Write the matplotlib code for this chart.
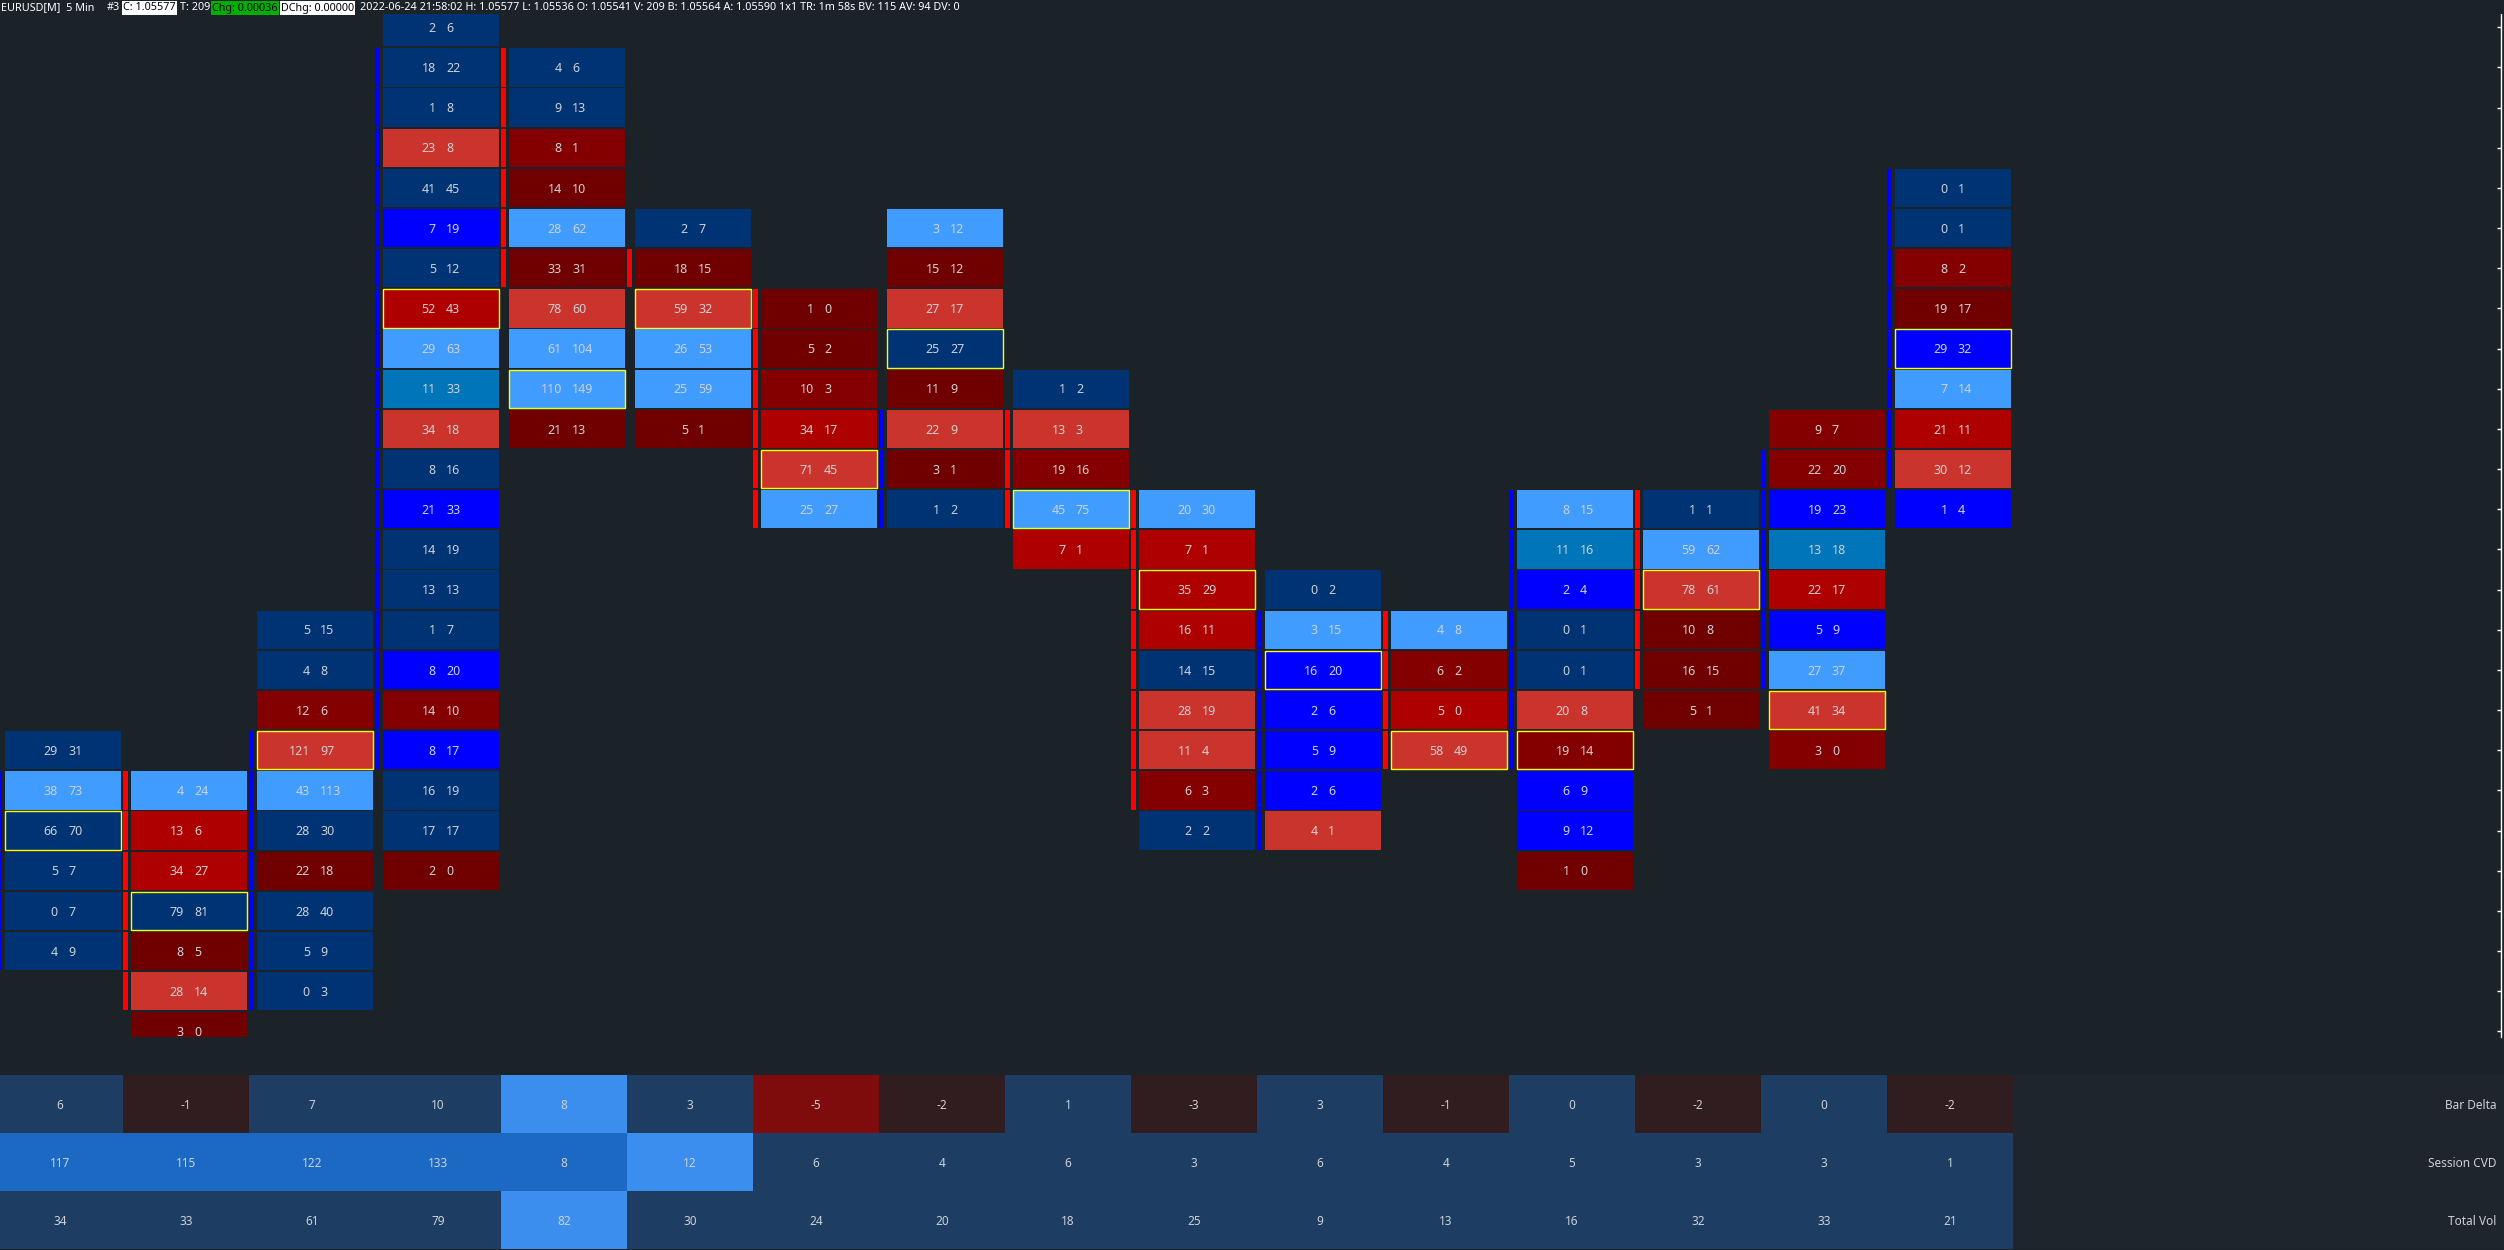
import matplotlib
matplotlib.use("Agg")
import matplotlib.pyplot as plt
from matplotlib.patches import Rectangle
import numpy as np

plt.rcParams["font.family"] = ["Noto Sans", "DejaVu Sans"]

# footprint data, one list per 5 min bar (top price level index, then rows downwards)
col_top = [18, 19, 15, 0, 1, 5, 7, 5, 9, 12, 14, 15, 12, 12, 10, 4]
bids = [
    [29, 38, 66, 5, 0, 4],
    [4, 13, 34, 79, 8, 28, 3],
    [5, 4, 12, 121, 43, 28, 22, 28, 5, 0],
    [2, 18, 1, 23, 41, 7, 5, 52, 29, 11, 34, 8, 21, 14, 13, 1, 8, 14, 8, 16, 17, 2],
    [4, 9, 8, 14, 28, 33, 78, 61, 110, 21],
    [2, 18, 59, 26, 25, 5],
    [1, 5, 10, 34, 71, 25],
    [3, 15, 27, 25, 11, 22, 3, 1],
    [1, 13, 19, 45, 7],
    [20, 7, 35, 16, 14, 28, 11, 6, 2],
    [0, 3, 16, 2, 5, 2, 4],
    [4, 6, 5, 58],
    [8, 11, 2, 0, 0, 20, 19, 6, 9, 1],
    [1, 59, 78, 10, 16, 5],
    [9, 22, 19, 13, 22, 5, 27, 41, 3],
    [0, 0, 8, 19, 29, 7, 21, 30, 1],
]
asks = [
    [31, 73, 70, 7, 7, 9],
    [24, 6, 27, 81, 5, 14, 0],
    [15, 8, 6, 97, 113, 30, 18, 40, 9, 3],
    [6, 22, 8, 8, 45, 19, 12, 43, 63, 33, 18, 16, 33, 19, 13, 7, 20, 10, 17, 19, 17, 0],
    [6, 13, 1, 10, 62, 31, 60, 104, 149, 13],
    [7, 15, 32, 53, 59, 1],
    [0, 2, 3, 17, 45, 27],
    [12, 12, 17, 27, 9, 9, 1, 2],
    [2, 3, 16, 75, 1],
    [30, 1, 29, 11, 15, 19, 4, 3, 2],
    [2, 15, 20, 6, 9, 6, 1],
    [8, 2, 0, 49],
    [15, 16, 4, 1, 1, 8, 14, 9, 12, 0],
    [1, 62, 61, 8, 15, 1],
    [7, 20, 23, 18, 17, 9, 37, 34, 0],
    [1, 1, 2, 17, 32, 14, 11, 12, 4],
]
# point of control row (index inside each bar)
poc = [2, 3, 3, 7, 8, 2, 4, 3, 3, 2, 2, 3, 6, 2, 7, 4]
# candle body: top level, bottom level, direction
body_top = [19, 19, 18, 1, 1, 6, 7, 10, 10, 12, 15, 15, 12, 12, 11, 4]
body_bot = [23, 24, 24, 18, 6, 6, 12, 12, 12, 19, 20, 18, 18, 16, 16, 11]
body_up = [True, False, True, True, False, False, False, True, False, False, True, False, True, False, True, True]

bar_delta = [6, -1, 7, 10, 8, 3, -5, -2, 1, -3, 3, -1, 0, -2, 0, -2]
session_cvd = [117, 115, 122, 133, 8, 12, 6, 4, 6, 3, 6, 4, 5, 3, 3, 1]
total_vol = [34, 33, 61, 79, 82, 30, 24, 20, 18, 25, 9, 13, 16, 32, 33, 21]
row_labels = ["Bar Delta", "Session CVD", "Total Vol"]

# cell shading codes
cell_codes = [
    "NLNNNN", "LddNkrk", "NNmrLNkNNN", "NNNrNBNdLTrNBNNNBmBNNk", "NNmkLkrLLk",
    "NkrLLk", "kkmdrL", "LkrNkrkN", "NrmLd", "LdddNrrmN", "NLBBBBr", "Lmdr",
    "LTBNNrmBBk", "NLrkkk", "mmBTdBLrm", "NNmkBLdrB",
]
cell_colors = {"N": "#003373", "L": "#409cff", "B": "#0000ff", "T": "#0075b9",
               "r": "#cb342c", "d": "#af0000", "m": "#840000", "k": "#700000"}
delta_codes = "DnDDHDRnDnDnDnDn"
cvd_codes = "MMMMMHDDDDDDDDDD"
vol_codes = "DDDDHDDDDDDDDDDD"
panel_colors = {"D": "#1d3d62", "n": "#311c1f", "R": "#7f0c0c", "H": "#3b8eed", "M": "#1c69c3"}

BG = "#1b2329"
TXT = "#cdd1d5"
W, H = 2504, 1250

fig = plt.figure(figsize=(W / 100, H / 100), dpi=100, facecolor=BG)

# main footprint panel
ax = fig.add_axes([0, 1 - 1037 / H, 2501 / W, 1037 / H])
ax.set_facecolor(BG)
ax.set_xlim(-0.5, 19.35)
ax.set_ylim(25.14, -0.677)

for i in range(len(col_top)):
    lv = col_top[i] + np.arange(len(bids[i]))
    fc = [cell_colors[c] for c in cell_codes[i]]
    ec = ["#ffff00" if j == poc[i] else fc[j] for j in range(len(lv))]
    lw = [1.0 if j == poc[i] else 0 for j in range(len(lv))]
    ax.bar(np.full(len(lv), i), 0.955, width=0.92, bottom=lv - 0.4775,
           color=fc, edgecolor=ec, linewidth=lw)
    for k, b, a in zip(lv, bids[i], asks[i]):
        ax.text(i - 0.04, k + 0.03, str(b), ha="right", va="center", fontsize=9, color=TXT)
        ax.text(i + 0.04, k + 0.03, str(a), ha="left", va="center", fontsize=9, color=TXT)
    blv = np.arange(body_top[i], body_bot[i] + 1)
    ax.bar(np.full(len(blv), i - 0.504), 0.955, width=0.04, bottom=blv - 0.4775,
           color="#0000ff" if body_up[i] else "#ff0000")

for s in ["top", "left", "bottom"]:
    ax.spines[s].set_visible(False)
ax.spines["right"].set_color("white")
ax.spines["right"].set_linewidth(1.0)
ax.set_xticks([])
ax.yaxis.tick_right()
ax.set_yticks(range(26))
ax.tick_params(axis="y", direction="in", length=3, width=1, color="white",
               labelright=False, right=True, left=False)

# bottom stats panel
bx = fig.add_axes([0, 1 / H, 1, 174 / H])
bx.set_facecolor("#1f252d")
bx.set_xlim(-0.476, 19.397)
bx.set_ylim(2.5, -0.5)
cols = np.arange(len(bar_delta))
for r, (vals, codes) in enumerate(zip([bar_delta, session_cvd, total_vol],
                                      [delta_codes, cvd_codes, vol_codes])):
    bx.bar(cols, 1.0, width=1.0, bottom=r - 0.5, color=[panel_colors[c] for c in codes])
    for i, v in enumerate(vals):
        bx.text(i, r + 0.03, str(v), ha="center", va="center", fontsize=8.5, color=TXT)
    bx.text(0.997, r + 0.03, row_labels[r], transform=bx.get_yaxis_transform(),
            ha="right", va="center", fontsize=8.5, color=TXT)
for s in bx.spines.values():
    s.set_visible(False)
bx.set_xticks([])
bx.set_yticks([])

# header strip
fig.add_artist(Rectangle((0, 1 - 14 / H), 1, 14 / H, transform=fig.transFigure,
                         facecolor=BG, edgecolor="none", zorder=5))
hy = 1 - 8 / H
hdr = dict(fontsize=7.8, va="center", zorder=6)
box = dict(edgecolor="none", pad=0.8)
fig.text(1 / W, hy, "EURUSD[M]  5 Min", color="white", **hdr)
fig.text(107 / W, hy, "#3", color="white", **hdr)
fig.text(123 / W, hy, "C: 1.05577", color="black", bbox=dict(facecolor="white", **box), **hdr)
fig.text(180 / W, hy, "T: 209", color="white", **hdr)
fig.text(212 / W, hy, "Chg: 0.00036", color="black", bbox=dict(facecolor="#00b000", **box), **hdr)
fig.text(281 / W, hy, "DChg: 0.00000", color="black", bbox=dict(facecolor="white", **box), **hdr)
fig.text(360 / W, hy, "2022-06-24 21:58:02 H: 1.05577 L: 1.05536 O: 1.05541 V: 209 "
         "B: 1.05564 A: 1.05590 1x1 TR: 1m 58s BV: 115 AV: 94 DV: 0", color="white", **hdr)

fig.savefig("out.png", dpi=100, facecolor=BG)
